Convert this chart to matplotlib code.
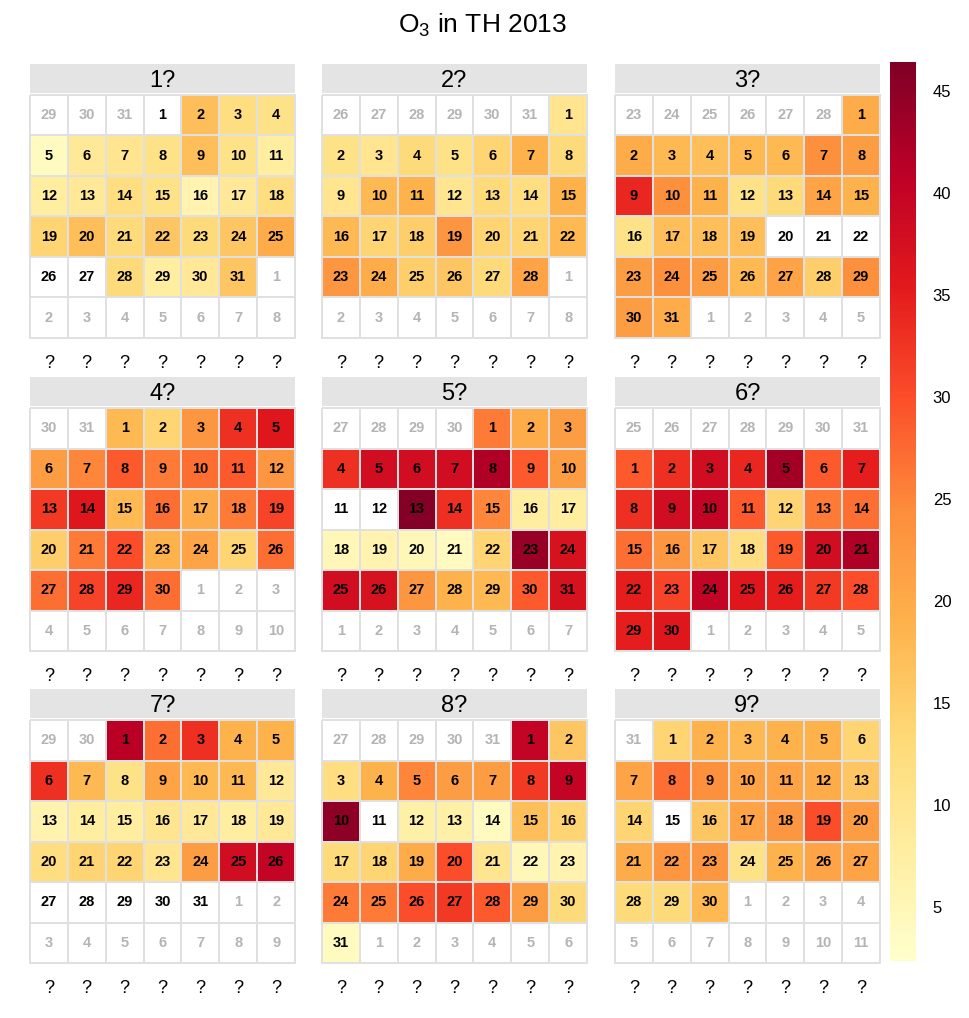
import datetime
import numpy as np
import matplotlib
matplotlib.use("Agg")
import matplotlib.pyplot as plt

plt.rcParams['font.family'] = ['Liberation Sans', 'DejaVu Sans']
plt.rcParams['mathtext.fontset'] = 'custom'
plt.rcParams['mathtext.rm'] = 'Liberation Sans'
plt.rcParams['mathtext.it'] = 'Liberation Sans:italic'

nan = np.nan
year = 2013
month_labels = ["1?", "2?", "3?", "4?", "5?", "6?", "7?", "8?", "9?"]
weekday_labels = ["?", "?", "?", "?", "?", "?", "?"]

jan = [nan, 17, 12, 11, 4, 9, 10, 11, 17, 11, 8, 8, 9, 12, 11, 6, 9, 12, 14, 17,
       13, 16, 13, 16, 20, nan, nan, 13, 8, 9, 16]
feb = [10, 11, 10, 13, 11, 14, 19, 13, 10, 18, 19, 10, 13, 12, 19, 18, 14, 15, 23, 14,
       14, 18, 23, 20, 15, 16, 13, 21]
mar = [20, 20, 18, 17, 18, 18, 24, 22, 34, 24, 19, 11, 13, 21, 19, 11, 17, 17, 17, nan,
       nan, nan, 22, 24, 22, 18, 21, 15, 24, 22, 20]
apr = [18, 14, 23, 33, 36, 22, 25, 29, 26, 27, 29, 23, 32, 36, 18, 27, 20, 26, 31, 15,
       26, 30, 19, 21, 14, 27, 27, 31, 34, 27]
may = [26, 20, 22, 33, 38, 38, 38, 42, 29, 22, nan, nan, 46, 33, 25, 8, 8, 5, 6, 5,
       4, 14, 44, 37, 38, 37, 23, 19, 18, 29, 37]
jun = [29, 33, 38, 34, 43, 29, 35, 33, 38, 40, 29, 14, 26, 27, 27, 23, 16, 12, 29, 38,
       42, 35, 31, 40, 36, 35, 32, 30, 35, 36]
jul = [41, 27, 33, 19, 19, 33, 18, 11, 21, 18, 18, 9, 6, 8, 8, 10, 9, 8, 9, 12,
       14, 14, 10, 22, 38, 40, nan, nan, nan, nan, nan]
aug = [40, 16, 12, 19, 25, 22, 22, 32, 40, 45, nan, 7, 7, 4, 17, 14, 13, 14, 20, 30,
       10, 5, 6, 26, 26, 30, 32, 29, 22, 13, 4]
sep = [14, 19, 18, 19, 19, 14, 21, 27, 24, 21, 21, 20, 16, 14, nan, 16, 21, 23, 30, 22,
       20, 23, 23, 11, 19, 21, 21, 13, 13, 18]
months = [jan, feb, mar, apr, may, jun, jul, aug, sep]

vmin, vmax = 2.35, 46.4
cbar_ticks = [5, 10, 15, 20, 25, 30, 35, 40, 45]
cmap = plt.get_cmap('YlOrRd').copy()
cmap.set_bad('white')
norm = matplotlib.colors.Normalize(vmin=vmin, vmax=vmax)

W, H = 970, 1018
fig = plt.figure(figsize=(W / 100, H / 100), dpi=100)
fig.patch.set_facecolor('white')

fig.text(482 / W, 1 - 25 / H, "O$_3$ in TH 2013", ha='center', va='center', fontsize=19)

lefts = [30, 322, 615]
tops = [64, 377, 689]
pw = 265
strip_h = 29
cell_top_off = 31
cell_h = 243
grid_col = '#e0e0e0'

mesh = None
for i, vals in enumerate(months):
    m = i + 1
    r, c = divmod(i, 3)
    x0 = lefts[c]
    t0 = tops[r]
    # strip
    sax = fig.add_axes([x0 / W, 1 - (t0 + strip_h) / H, pw / W, strip_h / H])
    sax.set_facecolor('#e4e4e4')
    sax.set_xticks([]); sax.set_yticks([])
    for s in sax.spines.values():
        s.set_visible(False)
    sax.text(0.5, 0.42, month_labels[i], ha='center', va='center', fontsize=17,
             transform=sax.transAxes)
    # cells
    ax = fig.add_axes([x0 / W, 1 - (t0 + cell_top_off + cell_h) / H, pw / W, cell_h / H])
    first = datetime.date(year, m, 1)
    offset = (first.weekday() - 5) % 7
    if offset == 0:
        offset = 7
    grid = np.full((6, 7), np.nan)
    start = first - datetime.timedelta(days=offset)
    for k in range(42):
        d = start + datetime.timedelta(days=k)
        rr, cc = divmod(k, 7)
        inmonth = d.month == m
        if inmonth:
            grid[rr, cc] = vals[d.day - 1]
        ax.text(cc + 0.5, rr + 0.5, str(d.day), ha='center', va='center',
                fontsize=10.5, fontweight='bold',
                color='black' if inmonth else '#b4b4b4', zorder=5)
    masked = np.ma.masked_invalid(grid)
    mesh = ax.pcolormesh(np.arange(8), np.arange(7), masked, cmap=cmap, norm=norm,
                         edgecolors=grid_col, linewidth=1.4, clip_on=False)
    ax.set_xlim(0, 7)
    ax.set_ylim(6, 0)
    ax.set_xticks([]); ax.set_yticks([])
    for s in ax.spines.values():
        s.set_visible(False)
    for cc in range(7):
        ax.text(cc + 0.5, 6.62, weekday_labels[cc], ha='center', va='center', fontsize=13,
                clip_on=False)

cax = fig.add_axes([890 / W, 1 - 961 / H, 26 / W, 899 / H])
cb = fig.colorbar(mesh, cax=cax, ticks=cbar_ticks)
cb.outline.set_visible(False)
cax.tick_params(length=0, pad=12, labelsize=12)

fig.savefig('out.png', dpi=100, facecolor='white')
